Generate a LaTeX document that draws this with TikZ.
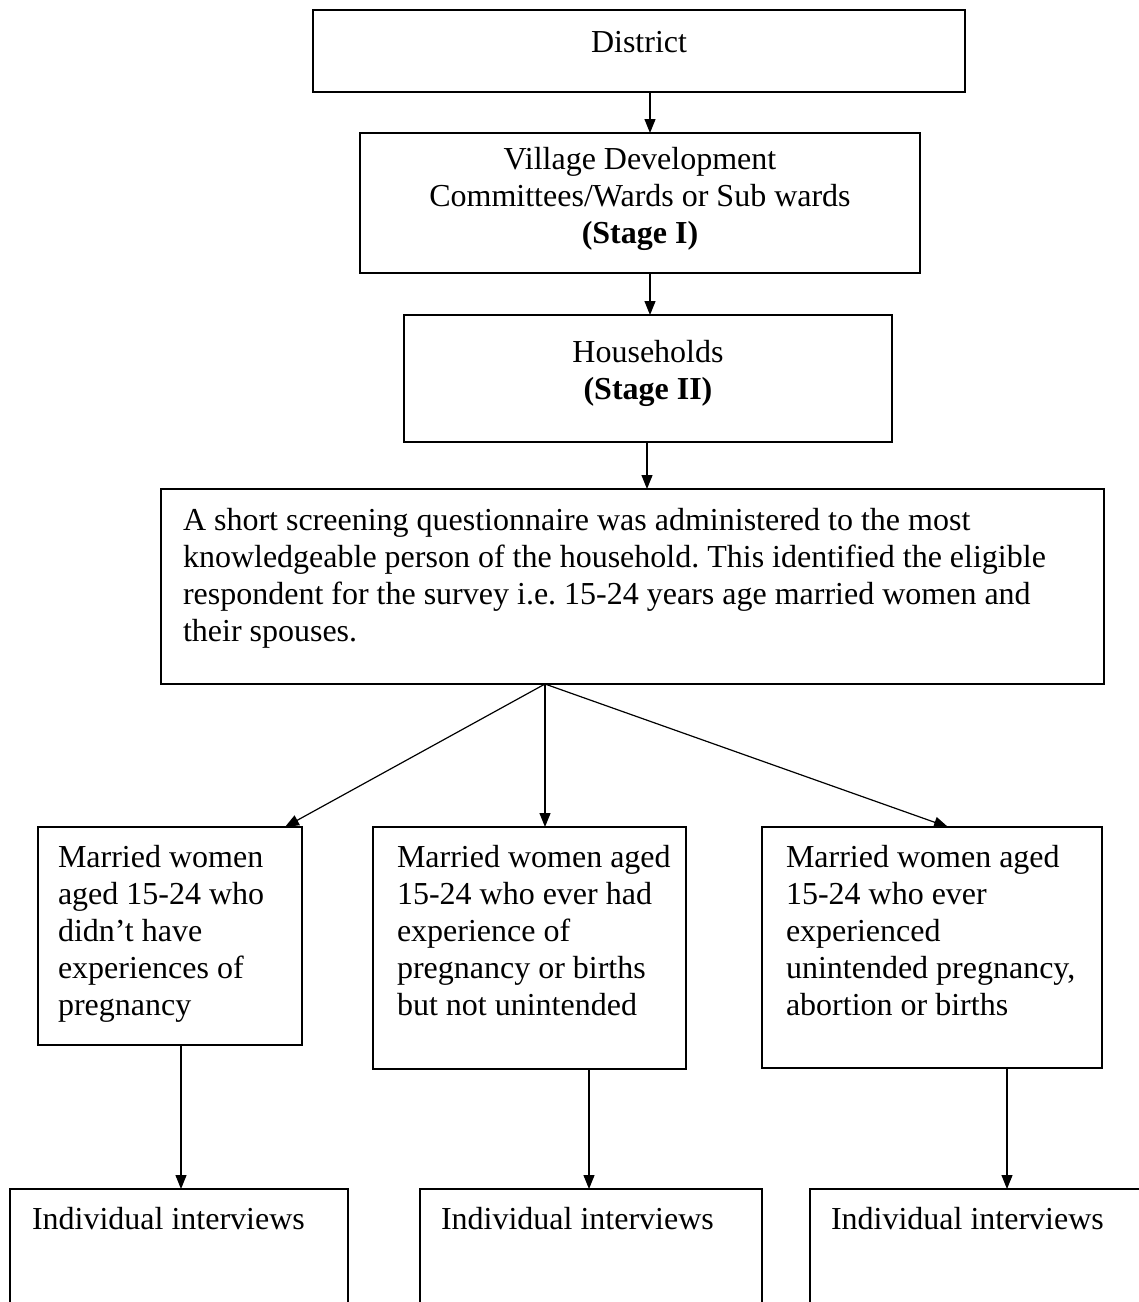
\documentclass[tikz,border=0pt]{standalone}
\usepackage{fontspec}
\setmainfont{Liberation Serif}
\usetikzlibrary{arrows.meta}
% fixed-size panel: width, height, top gap, alignment, text
\newcommand\panel[5]{\parbox[c][#2][t]{#1}{\vspace*{#3}#4\strut #5}}
\newcommand\padleft[1]{\raggedright\leftskip=#1\relax}
\frenchspacing
\begin{document}
\begin{tikzpicture}[x=1pt,y=1pt,
  box/.style={draw, line width=1.3pt, inner sep=0pt, outer sep=0pt,
    anchor=north west, font=\fontsize{32}{37}\selectfont},
  arr/.style={line width=1.2pt, -{Triangle[length=14pt,width=11pt]}}]
\clip (0,0) rectangle (1139,-1302);

% sampling stages
\node[box] (dist) at (313,-10)
  {\panel{652pt}{82pt}{17pt}{\centering}{District}};
\node[box] (vdc) at (360,-133)
  {\panel{560pt}{140pt}{11pt}{\centering}{Village Development\\Committees/Wards or Sub wards\\\textbf{(Stage I)}}};
\node[box] (hh) at (404,-315)
  {\panel{488pt}{127pt}{22pt}{\centering}{Households\\\textbf{(Stage II)}}};
\node[box] (scr) at (161,-489)
  {\panel{943pt}{195pt}{16pt}{\padleft{22pt}}{A short screening questionnaire was administered to the most\\knowledgeable person of the household. This identified the eligible\\respondent for the survey i.e. 15-24 years age married women and\\their spouses.}};

% respondent groups
\node[box] (g1) at (38,-827)
  {\panel{264pt}{218pt}{15pt}{\padleft{20pt}}{Married women\\aged 15-24 who\\didn’t have\\experiences of\\pregnancy}};
\node[box] (g2) at (373,-827)
  {\panel{313pt}{242pt}{15pt}{\padleft{24pt}}{Married women aged\\15-24 who ever had\\experience of\\pregnancy or births\\but not unintended}};
\node[box] (g3) at (762,-827)
  {\panel{340pt}{241pt}{15pt}{\padleft{24pt}}{Married women aged\\15-24 who ever\\experienced\\unintended pregnancy,\\abortion or births}};

% interviews
\node[box] (i1) at (10,-1189)
  {\panel{338pt}{150pt}{15pt}{\padleft{22pt}}{Individual interviews}};
\node[box] (i2) at (420,-1189)
  {\panel{342pt}{150pt}{15pt}{\padleft{21pt}}{Individual interviews}};
\node[box] (i3) at (810,-1189)
  {\panel{360pt}{150pt}{15pt}{\padleft{21pt}}{Individual interviews}};

% connectors
\draw[arr] (dist.south -| 650,0) -- (vdc.north -| 650,0);
\draw[arr] (vdc.south -| 650,0) -- (hh.north -| 650,0);
\draw[arr] (hh.south -| 647,0) -- (scr.north -| 647,0);
\coordinate (fan) at (scr.south -| 545,0);
\draw[arr] (fan) -- (g1.north -| 285,0);
\draw[arr] (fan) -- (g2.north -| 545,0);
\draw[arr] (fan) -- (g3.north -| 948,0);
\draw[arr] (g1.south -| 181,0) -- (i1.north -| 181,0);
\draw[arr] (g2.south -| 589,0) -- (i2.north -| 589,0);
\draw[arr] (g3.south -| 1007,0) -- (i3.north -| 1007,0);
\end{tikzpicture}
\end{document}
